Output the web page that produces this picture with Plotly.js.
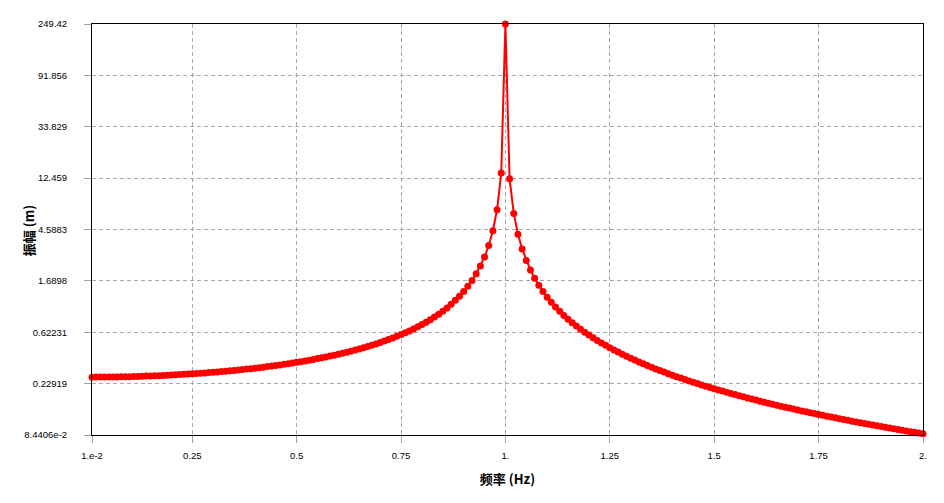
<!DOCTYPE html>
<html>
<head>
<meta charset="utf-8">
<script src="https://cdn.plot.ly/plotly-3.0.1.min.js"></script>
<style>html,body{margin:0;padding:0;background:#fff}#chart{width:944px;height:503px}</style>
</head>
<body>
<div id="chart"></div>
<script>
const freqHz = [
0.01,0.02,0.03,0.04,0.05,0.06,0.07,0.08,0.09,0.10,
0.11,0.12,0.13,0.14,0.15,0.16,0.17,0.18,0.19,0.20,
0.21,0.22,0.23,0.24,0.25,0.26,0.27,0.28,0.29,0.30,
0.31,0.32,0.33,0.34,0.35,0.36,0.37,0.38,0.39,0.40,
0.41,0.42,0.43,0.44,0.45,0.46,0.47,0.48,0.49,0.50,
0.51,0.52,0.53,0.54,0.55,0.56,0.57,0.58,0.59,0.60,
0.61,0.62,0.63,0.64,0.65,0.66,0.67,0.68,0.69,0.70,
0.71,0.72,0.73,0.74,0.75,0.76,0.77,0.78,0.79,0.80,
0.81,0.82,0.83,0.84,0.85,0.86,0.87,0.88,0.89,0.90,
0.91,0.92,0.93,0.94,0.95,0.96,0.97,0.98,0.99,1.00,
1.01,1.02,1.03,1.04,1.05,1.06,1.07,1.08,1.09,1.10,
1.11,1.12,1.13,1.14,1.15,1.16,1.17,1.18,1.19,1.20,
1.21,1.22,1.23,1.24,1.25,1.26,1.27,1.28,1.29,1.30,
1.31,1.32,1.33,1.34,1.35,1.36,1.37,1.38,1.39,1.40,
1.41,1.42,1.43,1.44,1.45,1.46,1.47,1.48,1.49,1.50,
1.51,1.52,1.53,1.54,1.55,1.56,1.57,1.58,1.59,1.60,
1.61,1.62,1.63,1.64,1.65,1.66,1.67,1.68,1.69,1.70,
1.71,1.72,1.73,1.74,1.75,1.76,1.77,1.78,1.79,1.80,
1.81,1.82,1.83,1.84,1.85,1.86,1.87,1.88,1.89,1.90,
1.91,1.92,1.93,1.94,1.95,1.96,1.97,1.98,1.99,2.00
];
const amplitudeM = [
0.2600,0.2601,0.2602,0.2604,0.2607,0.2609,0.2613,0.2617,0.2621,0.2626,
0.2632,0.2638,0.2645,0.2652,0.2660,0.2668,0.2677,0.2687,0.2697,0.2708,
0.2720,0.2732,0.2745,0.2759,0.2773,0.2789,0.2804,0.2821,0.2839,0.2857,
0.2876,0.2897,0.2918,0.2940,0.2963,0.2987,0.3012,0.3039,0.3066,0.3095,
0.3125,0.3157,0.3190,0.3224,0.3260,0.3298,0.3337,0.3378,0.3422,0.3467,
0.3514,0.3564,0.3616,0.3670,0.3728,0.3788,0.3851,0.3918,0.3988,0.4063,
0.4141,0.4224,0.4311,0.4404,0.4502,0.4607,0.4718,0.4836,0.4963,0.5098,
0.5243,0.5399,0.5566,0.5747,0.5943,0.6155,0.6387,0.6639,0.6917,0.7222,
0.7560,0.7937,0.8357,0.8832,0.9369,0.9985,1.0730,1.1566,1.2555,1.3745,
1.5201,1.7025,1.9374,2.2515,2.6926,3.3574,4.4735,6.7358,13.771,249.42,
12.287,6.268,4.1935,3.1431,2.5084,2.0838,1.7797,1.5512,1.3732,1.2307,
1.1140,1.0168,0.9346,0.8638,0.8027,0.7493,0.7021,0.6602,0.6226,0.5889,
0.5584,0.5307,0.5053,0.4822,0.4609,0.4412,0.4230,0.4062,0.3905,0.3758,
0.3622,0.3494,0.3374,0.3260,0.3154,0.3053,0.2958,0.2868,0.2783,0.2703,
0.2626,0.2553,0.2483,0.2417,0.2354,0.2293,0.2235,0.2180,0.2127,0.2076,
0.2027,0.1981,0.1936,0.1892,0.1851,0.1810,0.1772,0.1734,0.1699,0.1664,
0.1630,0.1598,0.1567,0.1536,0.1507,0.1479,0.1451,0.1424,0.1399,0.1373,
0.1349,0.1326,0.1303,0.1280,0.1259,0.1238,0.1217,0.1197,0.1178,0.1159,
0.1141,0.1123,0.1105,0.1088,0.1072,0.1056,0.1040,0.1024,0.1009,0.0995,
0.0980,0.0966,0.0953,0.0939,0.0926,0.0914,0.0901,0.0889,0.0877,0.0865
];
const xTickVals = [0.01,0.25,0.5,0.75,1.0,1.25,1.5,1.75,2.0];
const xTickText = ["1.e-2","0.25","0.5","0.75","1.","1.25","1.5","1.75","2."];
const yTickVals = [0.084406,0.22919,0.62231,1.6898,4.5883,12.459,33.829,91.856,249.42];
const yTickText = ["8.4406e-2","0.22919","0.62231","1.6898","4.5883","12.459","33.829","91.856","249.42"];
const xTitle = "频率 (Hz)";
const yTitle = "振幅 (m)";

const tickFont = {family:"Liberation Sans, Arial, sans-serif", size:9.5, color:"#000"};
const titleFont = {family:"Noto Sans CJK SC, DejaVu Sans, sans-serif", size:13, color:"#000", weight:"bold"};

const trace = {
  x: freqHz, y: amplitudeM, type:"scatter", mode:"lines+markers",
  line:{color:"#ff0000", width:2},
  marker:{color:"#ff0000", size:7, symbol:"circle"},
  cliponaxis:false, hoverinfo:"x+y"
};

const layout = {
  width:944, height:503,
  margin:{l:92, r:21, t:24, b:68, pad:0},
  paper_bgcolor:"#fff", plot_bgcolor:"#fff",
  showlegend:false,
  xaxis:{
    type:"linear", range:[0.01,2.0], tickmode:"array", tickvals:xTickVals, ticktext:xTickText,
    showline:true, linecolor:"#000", linewidth:1, mirror:true,
    ticks:"outside", ticklen:7, tickcolor:"#a0a0a0", tickwidth:1,
    showgrid:true, gridcolor:"#a8a8a8", griddash:"4px,3px", gridwidth:1,
    zeroline:false, tickfont:tickFont, ticklabelstandoff:5,
    title:{text:xTitle, font:titleFont, standoff:14}, automargin:false
  },
  yaxis:{
    type:"log", range:[Math.log10(0.084406), Math.log10(249.42)],
    tickmode:"array", tickvals:yTickVals, ticktext:yTickText,
    showline:true, linecolor:"#000", linewidth:1, mirror:true,
    ticks:"outside", ticklen:7, tickcolor:"#a0a0a0", tickwidth:1,
    showgrid:true, gridcolor:"#a8a8a8", griddash:"4px,3px", gridwidth:1,
    zeroline:false, tickfont:tickFont, ticklabelstandoff:15,
    automargin:false
  },
  annotations:[{
    text:yTitle, xref:"paper", yref:"paper", x:-0.077, y:0.496,
    xanchor:"center", yanchor:"middle", textangle:-90, showarrow:false,
    font:titleFont
  }]
};

Plotly.newPlot("chart", [trace], layout, {staticPlot:true, displayModeBar:false});
</script>
</body>
</html>
